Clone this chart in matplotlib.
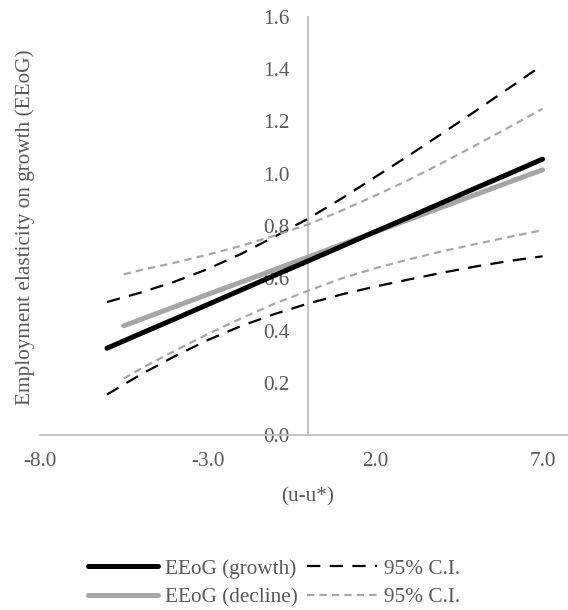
import matplotlib
matplotlib.use("Agg")
import matplotlib.pyplot as plt

# values
x_growth = [-6, -5, -4, -3, -2, -1, 0, 1, 2, 3, 4, 5, 6, 7]
eeog_growth = [0.332, 0.388, 0.443, 0.499, 0.555, 0.611, 0.666, 0.722, 0.778, 0.833, 0.889, 0.945, 1.000, 1.056]
growth_hi = [0.509, 0.545, 0.586, 0.635, 0.693, 0.759, 0.828, 0.905, 0.987, 1.069, 1.154, 1.240, 1.328, 1.416]
growth_lo = [0.155, 0.231, 0.300, 0.363, 0.417, 0.463, 0.503, 0.538, 0.568, 0.595, 0.621, 0.645, 0.666, 0.684]

x_decline = [-5.5, -5, -4, -3, -2, -1, 0, 1, 2, 3, 4, 5, 6, 7]
eeog_decline = [0.418, 0.442, 0.490, 0.538, 0.585, 0.633, 0.681, 0.729, 0.777, 0.824, 0.872, 0.920, 0.968, 1.015]
decline_hi = [0.615, 0.631, 0.659, 0.690, 0.724, 0.763, 0.806, 0.859, 0.916, 0.976, 1.041, 1.109, 1.178, 1.249]
decline_lo = [0.216, 0.253, 0.321, 0.386, 0.446, 0.503, 0.552, 0.599, 0.638, 0.672, 0.703, 0.731, 0.758, 0.784]

x_ticks = [-8, -3, 2, 7]
y_ticks = [0.0, 0.2, 0.4, 0.6, 0.8, 1.0, 1.2, 1.4, 1.6]

txt = "#595959"
axis_col = "#BFBFBF"
grey = "#A6A6A6"
fs = 15.3
plt.rcParams["font.family"] = ["Liberation Serif", "DejaVu Serif"]

fig = plt.figure(figsize=(5.68, 6.10), dpi=100)
ax = fig.add_axes([40 / 568, 1 - 435 / 610, 528 / 568, 418 / 610])

l1, = ax.plot(x_growth, eeog_growth, color="black", lw=3.6, solid_capstyle="round", zorder=4)
l2, = ax.plot(x_growth, growth_hi, color="black", lw=1.6, dashes=(6, 4.2), zorder=3)
ax.plot(x_growth, growth_lo, color="black", lw=1.6, dashes=(6, 4.2), zorder=3)
l3, = ax.plot(x_decline, eeog_decline, color=grey, lw=3.6, solid_capstyle="round", zorder=3)
l4, = ax.plot(x_decline, decline_hi, color=grey, lw=1.6, dashes=(3.3, 2.3), zorder=3)
ax.plot(x_decline, decline_lo, color=grey, lw=1.6, dashes=(3.3, 2.3), zorder=3)

ax.set_xlim(-8, 7.76)
ax.set_ylim(0, 1.6)
ax.set_xticks(x_ticks)
ax.set_xticklabels([f"{v:.1f}" for v in x_ticks])
ax.set_yticks(y_ticks)
ax.set_yticklabels([f"{v:.1f}" for v in y_ticks])

for s in ["top", "right"]:
    ax.spines[s].set_visible(False)
ax.spines["left"].set_position(("data", 0))
ax.spines["bottom"].set_position(("data", 0))
for s in ["left", "bottom"]:
    ax.spines[s].set_color(axis_col)
    ax.spines[s].set_linewidth(1.3)
ax.set_axisbelow(True)
ax.tick_params(axis="y", length=0, pad=13, labelsize=fs, labelcolor=txt)
ax.tick_params(axis="x", length=0, pad=12, labelsize=fs, labelcolor=txt)

fig.text(25 / 568, 1 - 227 / 610, "Employment elasticity on growth (EEoG)", rotation=90,
         ha="center", va="center", fontsize=fs, color=txt)
fig.text(308 / 568, 1 - 497 / 610, "(u-u*)", ha="center", va="center", fontsize=fs, color=txt)

leg = fig.legend([l1, l3, l2, l4], ["EEoG (growth)", "EEoG (decline)", "95% C.I.", "95% C.I."],
                 ncol=2, loc="center", bbox_to_anchor=(274 / 568, 1 - 583 / 610), frameon=False,
                 fontsize=fs, handlelength=3.3, handletextpad=0.35, columnspacing=0.4,
                 labelspacing=0.42, labelcolor=txt)

fig.savefig("out.png", dpi=100)
